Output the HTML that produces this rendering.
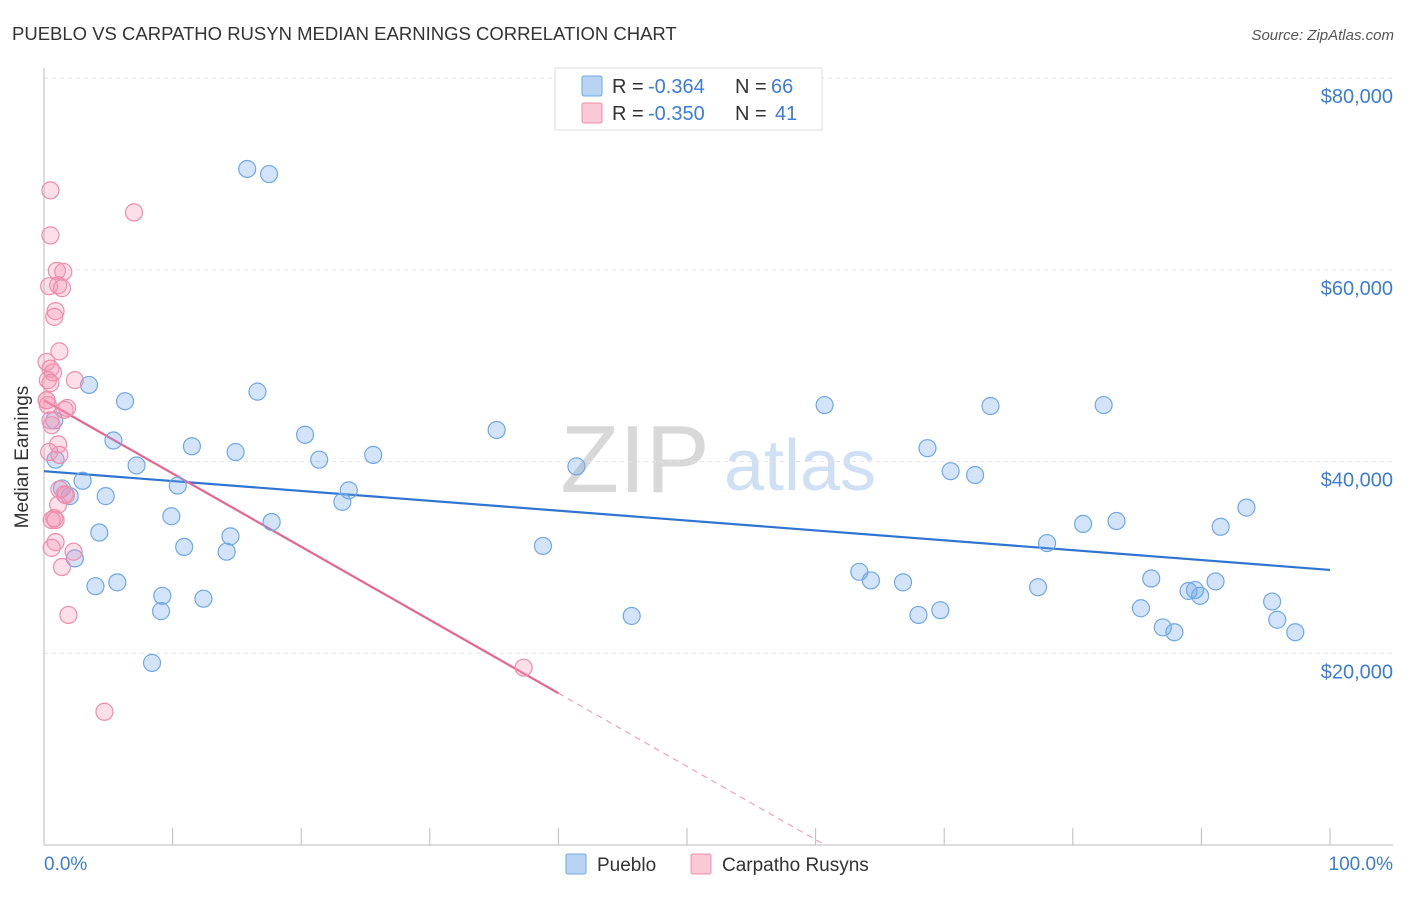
<!DOCTYPE html>
<html><head><meta charset="utf-8">
<style>
body{margin:0;background:#fff;font-family:"Liberation Sans",sans-serif;}
svg text{font-family:"Liberation Sans",sans-serif;}
</style></head>
<body>
<svg id="chart" width="1406" height="892" viewBox="0 0 1406 892">
<text x="12" y="40" font-size="18.5" fill="#333">PUEBLO VS CARPATHO RUSYN MEDIAN EARNINGS CORRELATION CHART</text>
<text x="1394" y="40" font-size="15" fill="#555" font-style="italic" text-anchor="end">Source: ZipAtlas.com</text>
<g>
<text x="635" y="492" font-size="96" font-family="Liberation Serif,serif" fill="#d8d8d8" text-anchor="middle">ZIP</text>
<text x="800" y="490" font-size="72" fill="#cfe0f5" text-anchor="middle">atlas</text>
</g>
<g id="grid"></g>
<g id="axes"></g>
<g id="trends"></g>
<g id="points"></g>
<text x="28" y="457" font-size="19" fill="#333" text-anchor="middle" transform="rotate(-90 28 457)">Median Earnings</text>
<text x="44" y="870" font-size="19" fill="#3b7dd8">0.0%</text>
<text x="1393" y="870" font-size="19" fill="#3b7dd8" text-anchor="end">100.0%</text>
<g>
<rect x="555" y="68" width="267" height="62" fill="#fff" stroke="#ddd"/>
<rect x="582" y="76" width="20" height="20" fill="#b9d3f3" stroke="#6fa8e8" rx="2"/>
<rect x="582" y="103" width="20" height="20" fill="#f9c9d8" stroke="#f08cab" rx="2"/>
<text x="612" y="93" font-size="20" fill="#333">R =</text>
<text x="648" y="93" font-size="20" fill="#3b7dd8">-0.364</text>
<text x="735" y="93" font-size="20" fill="#333">N =</text>
<text x="771" y="93" font-size="20" fill="#3b7dd8">66</text>
<text x="612" y="120" font-size="20" fill="#333">R =</text>
<text x="648" y="120" font-size="20" fill="#3b7dd8">-0.350</text>
<text x="735" y="120" font-size="20" fill="#333">N =</text>
<text x="775" y="120" font-size="20" fill="#3b7dd8">41</text>
</g>
<g>
<rect x="566" y="854" width="20" height="20" fill="#b9d3f3" stroke="#6fa8e8" rx="2"/>
<text x="597" y="871" font-size="19" fill="#333">Pueblo</text>
<rect x="691" y="854" width="20" height="20" fill="#f9c9d8" stroke="#f08cab" rx="2"/>
<text x="722" y="871" font-size="19" fill="#333">Carpatho Rusyns</text>
</g>
</svg>
<script>
const yTicks=[20000,40000,60000,80000];
const yTickLabels=["$20,000","$40,000","$60,000","$80,000"];
const xTicks=[10,20,30,40,50,60,70,80,90,100];
const puebloX=[15.8,17.5,3.5,6.3,16.6,5.4,7.2,11.5,14.9,20.3,21.4,25.6,35.2,41.4,60.7,73.6,82.4,68.7,70.5,72.4,0.8,0.9,1.4,2.0,3.0,4.8,10.4,9.9,23.7,23.2,17.7,14.5,4.3,10.9,14.2,38.8,2.4,4.0,5.7,9.2,9.1,12.4,8.4,45.7,63.4,64.3,66.8,68.0,69.7,77.3,78.0,80.8,83.4,91.5,93.5,86.1,85.3,87.0,87.9,89.0,89.5,89.9,91.1,95.5,95.9,97.3];
const puebloY=[70530,70000,48000,46300,47300,42200,39600,41600,41000,42800,40200,40700,43300,39500,45900,45800,45900,41400,39000,38600,44300,40200,37200,36400,38000,36400,37500,34300,37000,35800,33700,32200,32600,31100,30600,31200,29900,27000,27400,26000,24400,25700,19000,23900,28500,27600,27400,24000,24500,26900,31500,33500,33800,33200,35200,27800,24700,22700,22200,26500,26600,26000,27500,25400,23500,22200];
const carpX=[0.5,7.0,0.5,1.0,1.5,0.4,1.1,1.4,0.9,0.8,1.2,0.2,0.5,0.7,0.3,0.5,2.4,0.2,1.6,1.8,0.6,1.1,0.4,1.2,1.6,1.1,0.8,0.9,0.6,0.9,0.6,2.3,1.4,1.9,4.7,37.3,0.3,0.5,1.2,1.7,0.2];
const carpY=[68300,66000,63600,59900,59800,58300,58400,58100,55700,55100,51500,50400,49700,49300,48500,48200,48500,46400,45400,45600,43800,41800,41000,37100,36600,35500,34100,33900,33900,31600,31000,30600,29000,24000,13900,18500,45900,44300,40700,36500,46400];
const puebloTrend=[39000,28700];
const carpTrend=[46400,-764];
const carpSolidEnd=40;

const X0=44,X1=1330,YB=845,YPER=191.7/20000;
const sx=v=>X0+(X1-X0)*v/100;
const sy=v=>YB-v*YPER;
const NS="http://www.w3.org/2000/svg";
function mk(tag,attrs,parent){const e=document.createElementNS(NS,tag);for(const k in attrs)e.setAttribute(k,attrs[k]);parent.appendChild(e);return e;}
const grid=document.getElementById('grid'),axes=document.getElementById('axes'),trends=document.getElementById('trends'),pts=document.getElementById('points');
yTicks.forEach((t,i)=>{
 const l=mk('line',{x1:X0,x2:1393,y1:sy(t),y2:sy(t),stroke:'#e3e3e3','stroke-dasharray':'4 4'},grid);
 
 
 const tx=mk('text',{x:1393,y:sy(t)+25,'font-size':20,fill:'#3b7dd8','text-anchor':'end'},grid);
 tx.textContent=yTickLabels[i];
 
 
});
const ya=mk('line',{x1:X0,x2:X0,y1:68,y2:YB,stroke:'#bbb'},axes);


const xa=mk('line',{x1:X0,x2:1393,y1:YB,y2:YB,stroke:'#bbb'},axes);


xTicks.forEach(t=>{
 const l=mk('line',{x1:sx(t),x2:sx(t),y1:828,y2:YB,stroke:'#bbb'},axes);
 
 
});
puebloX.forEach((x,i)=>{
 const c=mk('circle',{cx:sx(x),cy:sy(puebloY[i]),r:8.5,fill:'rgba(110,165,232,0.3)',stroke:'#6fa8e8','stroke-width':1.2},pts);
 
 
});
carpX.forEach((x,i)=>{
 const c=mk('circle',{cx:sx(x),cy:sy(carpY[i]),r:8.5,fill:'rgba(245,150,180,0.3)',stroke:'#f08cab','stroke-width':1.2},pts);
 
 
});
const pt=mk('line',{x1:sx(0),y1:sy(puebloTrend[0]),x2:sx(100),y2:sy(puebloTrend[1]),stroke:'#2f74d0','stroke-width':2.2},trends);


const cv=x=>carpTrend[0]+carpTrend[1]*x;
const xZero=-carpTrend[0]/carpTrend[1];
const ct=mk('line',{x1:sx(0),y1:sy(cv(0)),x2:sx(carpSolidEnd),y2:sy(cv(carpSolidEnd)),stroke:'#e8638f','stroke-width':2.2},trends);


const cd=mk('line',{x1:sx(carpSolidEnd),y1:sy(cv(carpSolidEnd)),x2:sx(xZero),y2:sy(0),stroke:'#f0a0b8','stroke-width':1.2,'stroke-dasharray':'6 5'},trends);


</script>
</body></html>
